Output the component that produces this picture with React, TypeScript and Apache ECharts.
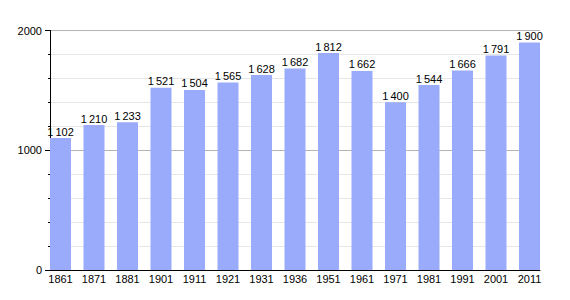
import React, { useEffect, useRef } from "react";
import * as echarts from "echarts";

const years = ["1861", "1871", "1881", "1901", "1911", "1921", "1931", "1936", "1951", "1961", "1971", "1981", "1991", "2001", "2011"];
const population = [1102, 1210, 1233, 1521, 1504, 1565, 1628, 1682, 1812, 1662, 1400, 1544, 1666, 1791, 1900];
const yTicks = [0, 1000, 2000];

const fmt = (v: number) => {
  const s = String(v);
  return s.length > 3 ? s.slice(0, s.length - 3) + "\u2009" + s.slice(-3) : s;
};

export default function App() {
  const ref = useRef<HTMLDivElement>(null);
  useEffect(() => {
    if (!ref.current) return;
    const chart = echarts.init(ref.current, undefined, { renderer: "svg" });
    const font = "Liberation Sans, Arial, sans-serif";
    chart.setOption({
      animation: false,
      backgroundColor: "#ffffff",
      grid: [
        { left: 50, right: 30, top: 30.5, bottom: 30 },
        { left: 60.5, right: 40.5, top: 30.5, bottom: 30 },
      ],
      xAxis: [
        {
          gridIndex: 0,
          type: "value",
          min: 0,
          max: 1,
          axisLine: { show: true, onZero: false, lineStyle: { color: "#000", width: 1 } },
          axisTick: { show: false },
          axisLabel: { show: false },
          splitLine: { show: false },
        },
        {
          gridIndex: 1,
          type: "category",
          data: years,
          boundaryGap: false,
          axisLine: { show: false },
          axisTick: { show: false },
          axisLabel: { color: "#000", fontSize: 11, fontFamily: font, margin: 3, interval: 0 },
          splitLine: { show: false },
        },
      ],
      yAxis: [
        {
          gridIndex: 0,
          type: "value",
          min: yTicks[0],
          max: yTicks[yTicks.length - 1],
          interval: 1000,
          axisLine: { show: true, lineStyle: { color: "#000", width: 1 } },
          axisTick: { show: true, length: 5, lineStyle: { color: "#000" } },
          minorTick: { show: true, splitNumber: 5, length: 2, lineStyle: { color: "#000" } },
          axisLabel: { color: "#000", fontSize: 11, fontFamily: font, margin: 8, formatter: (v: number) => String(v) },
          splitLine: { show: true, lineStyle: { color: "#b4b4b4", width: 1 } },
          minorSplitLine: { show: true, lineStyle: { color: "#e6e6e6", width: 1 } },
        },
        {
          gridIndex: 1,
          type: "value",
          min: 0,
          max: 2000,
          show: false,
          splitLine: { show: false },
        },
      ],
      series: [
        {
          type: "bar",
          xAxisIndex: 1,
          yAxisIndex: 1,
          data: population,
          barWidth: 21,
          itemStyle: { color: "#9aabfb" },
          label: {
            show: true,
            position: "top",
            distance: 1,
            color: "#000",
            fontSize: 11,
            fontFamily: font,
            formatter: (p: any) => fmt(p.value),
          },
        },
      ],
    });
    return () => chart.dispose();
  }, []);
  return <div ref={ref} style={{ width: 570, height: 300, position: "absolute", left: 0, top: 0 }} />;
}
